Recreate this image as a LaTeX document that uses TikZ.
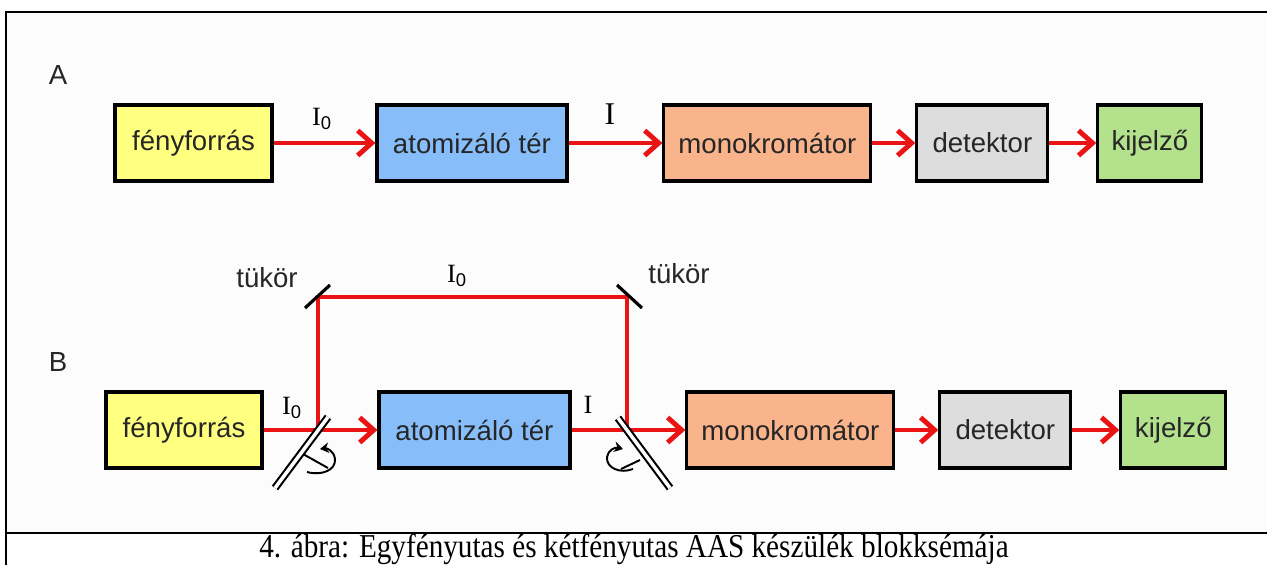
\documentclass[tikz,border=0pt]{standalone}
\usepackage{fontspec}
\usepackage{graphicx}
\setmainfont{Liberation Serif}
\setsansfont{Liberation Sans}
\usetikzlibrary{arrows.meta}
\definecolor{srcyellow}{RGB}{255,255,128}
\definecolor{atomblue}{RGB}{135,190,250}
\definecolor{monosalmon}{RGB}{250,180,140}
\definecolor{detgray}{RGB}{221,221,221}
\definecolor{dispgreen}{RGB}{180,225,140}
\definecolor{beamred}{RGB}{235,20,20}
\definecolor{panel}{RGB}{252,252,252}
\tikzstyle{line} = [draw=beamred, line width=2.8pt, -{Straight Barb[length=0.28cm, width=0.5cm]}]
\tikzstyle{beam} = [draw=beamred, line width=2.8pt]
\tikzstyle{block} = [rectangle, draw, line width=1.8pt, minimum height=1.52cm, text=black!85, font=\sffamily\fontsize{15.7}{18}\selectfont]
\tikzstyle{mirror} = [draw, line width=1.8pt]
\tikzstyle{splitter} = [draw, line width=1.2pt, double=white, double distance=0.07cm]
\tikzstyle{rot} = [draw, line width=1.1pt]
\tikzstyle{lbl} = [text=black!85, font=\sffamily\fontsize{15.7}{18}\selectfont]
\tikzstyle{intens} = [font=\fontsize{15}{18}\selectfont]

\begin{document}
\begin{tikzpicture}[x=0.02cm, y=-0.02cm]
	\useasboundingbox (0,0) rectangle (1267,565);
	\fill [panel] (6,12) rectangle (1267,533);
	\draw [line width=1.4pt] (6,565) -- (6,12) -- (1267,12);
	\draw [line width=1.4pt] (6,533) -- (1267,533);
	
	\node [lbl] (labA) at (58,75) {A};
	\node [block, fill=srcyellow, minimum width=3.14cm] (srcA) at (193.5,143) {fényforrás};
	\node [block, fill=atomblue, right of=srcA, node distance=5.57cm, minimum width=3.8cm] (atomA) {atomizáló tér};
	\node [block, fill=monosalmon, right of=atomA, node distance=5.91cm, minimum width=4.14cm] (monoA) {monokromátor};
	\node [block, fill=detgray, right of=monoA, node distance=4.3cm, minimum width=2.62cm] (detA) {detektor};
	\node [block, fill=dispgreen, right of=detA, node distance=3.35cm, minimum width=2.08cm] (dispA) {kijelző};
	
	\path [line] (srcA) -- (atomA);
	\path [line] (atomA) -- (monoA);
	\path [line] (monoA) -- (detA);
	\path [line] (detA) -- (dispA);
	\node [intens] (i0A) at (322,119) {I\textsubscript{\sffamily 0}};
	\node [intens, font=\fontsize{18}{18}\selectfont] (iA) at (610,114) {I};
	
	\node [lbl] (labB) at (58,362) {B};
	\node [block, fill=srcyellow, minimum width=3.12cm] (srcB) at (184,430) {fényforrás};
	\node [block, fill=atomblue, right of=srcB, node distance=5.81cm, minimum width=3.82cm] (atomB) {atomizáló tér};
	\node [block, fill=monosalmon, right of=atomB, node distance=6.32cm, minimum width=4.14cm] (monoB) {monokromátor};
	\node [block, fill=detgray, right of=monoB, node distance=4.3cm, minimum width=2.62cm] (detB) {detektor};
	\node [block, fill=dispgreen, right of=detB, node distance=3.36cm, minimum width=2.1cm] (dispB) {kijelző};
	
	\coordinate (split1) at (318,430);
	\coordinate (mirror1) at (318,297);
	\coordinate (mirror2) at (627,297);
	\coordinate (split2) at (627,430);
	
	\path [line] (srcB) -- (atomB);
	\path [line] (atomB) -- (monoB);
	\path [line] (monoB) -- (detB);
	\path [line] (detB) -- (dispB);
	\path [beam] (split1) -- (mirror1) -- (mirror2) -- (split2);
	
	\draw [mirror] (mirror1) ++(-13,11) -- ++(25,-23);
	\draw [mirror] (mirror2) ++(-10,-12) -- ++(25,23);
	\draw [splitter] (split1) ++(-43,58) -- ++(53,-71);
	\draw [splitter] (split2) ++(-9,-12) -- ++(52,70);
	
	\draw [rot] (303,454) -- (328,468);
	\draw [rot, -{Stealth[length=5pt, width=6pt]}] (307,472) .. controls (322,476) and (336,470) .. (335,459) .. controls (334,451) and (327,448) .. (320,449);
	\draw [rot] (640,460) -- (621,469);
	\draw [rot, -{Stealth[length=5pt, width=6pt]}] (633,469) .. controls (620,474) and (606,468) .. (607,457) .. controls (608,450) and (615,447) .. (623,449);
	
	\node [lbl] (tukor1) at (267,278) {tükör};
	\node [lbl] (tukor2) at (679,274) {tükör};
	\node [intens] (i0top) at (457,276) {I\textsubscript{\sffamily 0}};
	\node [intens] (i0B) at (292,408) {I\textsubscript{\sffamily 0}};
	\node [intens] (iB) at (588,405) {I};
	
	\node [font=\fontsize{19}{20}\selectfont] (caption) at (634,549) {\scalebox{0.875}[1]{4. ábra: Egyfényutas és kétfényutas AAS készülék blokksémája}};
\end{tikzpicture}
\end{document}
